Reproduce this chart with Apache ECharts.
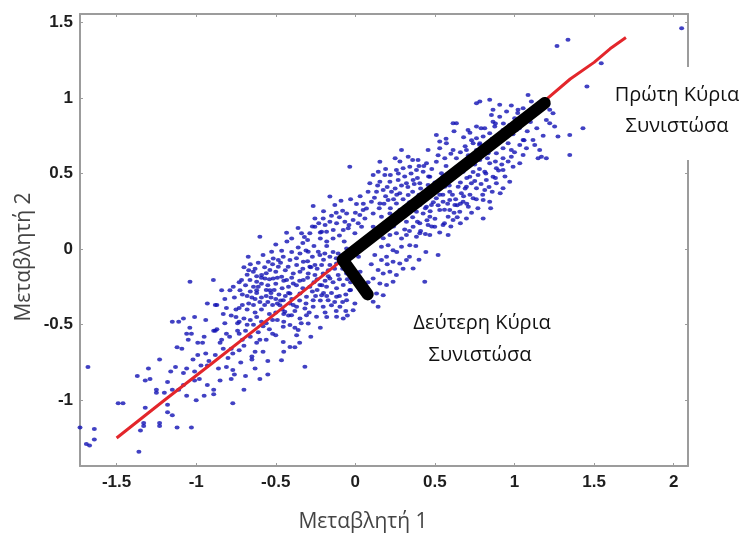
<!DOCTYPE html>
<html>
<head>
<meta charset="utf-8">
<script src="https://cdn.jsdelivr.net/npm/echarts@6/dist/echarts.min.js"></script>
<style>html,body{margin:0;padding:0;background:#fff}#c{width:745px;height:534px}</style>
</head>
<body>
<div id="c"></div>
<script>
// Tick labels
const xTicks = [-1.5, -1, -0.5, 0, 0.5, 1, 1.5, 2];
const yTicks = [-1, -0.5, 0, 0.5, 1, 1.5];
const xRange = [-1.73, 2.09];
const yRange = [-1.435, 1.555];

// Scatter points (Μεταβλητή 1, Μεταβλητή 2), read region by region
const pointsLowerLeft = [
[-1.68,-0.78],[-1.73,-1.18],[-1.64,-1.19],[-1.64,-1.26],[-1.69,-1.29],[-1.67,-1.30],[-1.46,-1.02],[-1.49,-1.02],[-1.36,-1.34],[-1.37,-0.84],[-1.32,-0.87],[-1.29,-0.86],[-1.30,-0.79],[-1.23,-0.73],[-1.25,-0.93],[-1.25,-0.95],[-1.32,-1.05],[-1.33,-1.15],[-1.33,-1.17],[-1.35,-1.20],[-1.23,-1.15],[-1.23,-1.17],[-1.18,-1.03],[-1.18,-1.08],[-1.12,-1.18],[-1.03,-1.18],[-1.16,-0.81],[-1.18,-0.88],[-1.13,-0.78],[-1.15,-0.93],[-1.11,-0.93],[-1.06,-0.97],[-1.15,-0.48],[-1.11,-0.48],[-1.08,-0.46],[-1.12,-0.65],[-1.09,-0.66],[-1.06,-0.56],[-1.03,-0.56],[-1.04,-0.52],[-1.05,-0.60],[-1.01,-0.45],[-0.99,-0.62],[-0.99,-0.70],[-0.96,-0.62],[-0.95,-0.58],[-0.94,-0.69],[-0.93,-0.77],[-1.06,-0.79],[-1.08,-0.82],[-1.01,-0.81],[-1.01,-0.87],[-0.98,-0.86],[-0.93,-0.90],[-0.94,-0.47],[-0.93,-0.36],[-0.88,-0.37],[-0.87,-0.37],[-0.82,-0.33],[-0.81,-0.39],[-0.89,-0.54],[-0.88,-0.54],[-0.84,-0.60],[-0.85,-0.62],[-0.81,-0.56],[-0.81,-0.78],[-0.77,-0.80],[-0.76,-0.83],[-0.85,-0.87],[-0.78,-0.86],[-0.89,-0.93],[-0.89,-0.96],[-0.77,-1.02],[-0.78,-0.66],[-0.73,-0.67],[-0.77,-0.69],[-0.74,-0.54],[-0.73,-0.56],[-0.69,-0.54],[-0.65,-0.71],[-0.65,-0.73],[-0.69,-0.84],[-0.63,-0.79],[-0.60,-0.60],[-0.58,-0.68],[-0.62,-0.62],[-0.52,-0.56],[-0.73,-0.48],[-0.74,-0.49],
[-0.68,-0.31],[-0.65,-0.32],[-0.62,-0.29],[-0.59,-0.32],[-0.56,-0.31],[-0.53,-0.29],[-0.50,-0.33],[-0.67,-0.36],[-0.64,-0.37],[-0.60,-0.35],[-0.57,-0.37],[-0.52,-0.37],[-0.49,-0.36],[-0.73,-0.39],[-0.68,-0.40],[-0.63,-0.42],[-0.59,-0.40],[-0.54,-0.43],[-0.50,-0.42],[-0.75,-0.45],[-0.70,-0.46],[-0.66,-0.47],[-0.62,-0.45],[-0.59,-0.48],[-0.56,-0.49],[-0.52,-0.47],[-0.68,-0.50],[-0.64,-0.50],[-0.58,-0.51],[-0.76,-0.32],[-0.71,-0.37],[-0.78,-0.44],[-0.83,-0.43],[-0.82,-0.49],[-0.87,-0.53],[-0.75,-0.40],
[-1.20,-0.95],[-1.15,-1.10],[-1.08,-0.90],[-1.00,-1.00],[-0.95,-0.97],[-0.70,-0.93],[-0.60,-0.86],[-0.55,-0.74],[-0.45,-0.68],[-0.38,-0.65],[-0.35,-0.62],[-0.28,-0.58],[-0.22,-0.52],[-0.18,-0.45],[-0.05,-0.44],[-0.55,-0.83]
];
const pointsCore = [
[-0.16,0.347],[-0.265,0.285],[-0.129,0.291],[-0.08,0.254],[-0.055,0.236],[0.007,0.298],[0.028,0.225],[0.049,0.258],[0.07,0.269],
[-0.254,0.203],[-0.202,0.203],[-0.16,0.181],[-0.118,0.17],[-0.066,0.181],[-0.014,0.192],[0.018,0.17],[0.06,0.203],
[-0.6,0.082],[-0.432,0.108],[-0.338,0.104],[-0.286,0.104],[-0.254,0.148],[-0.212,0.115],[-0.181,0.115],[-0.139,0.126],[-0.076,0.126],[-0.045,0.137],[-0.003,0.104],[0.039,0.148],
[-0.526,-0.018],[-0.463,-0.011],[-0.359,0.011],[-0.348,-0.029],[-0.296,-0.018],[-0.233,-0.018],[-0.223,-0.04],[-0.192,-0.029],[-0.16,-0.051],[-0.108,-0.029],[-0.055,0.004],
[-0.673,-0.051],[-0.547,-0.084],[-0.516,-0.062],[-0.484,-0.073],[-0.453,-0.051],[-0.411,-0.073],[-0.369,-0.106],[-0.327,-0.084],[-0.286,-0.117],[-0.254,-0.106],[-0.212,-0.106],[-0.16,-0.106],[-0.118,-0.095],
[-0.641,-0.15],[-0.589,-0.172],[-0.537,-0.139],[-0.484,-0.117],[-0.422,-0.117],[-0.39,-0.161],[-0.348,-0.15],[-0.296,-0.161],[-0.254,-0.172],[-0.202,-0.161],[-0.16,-0.194],[-0.108,-0.172],[-0.055,-0.161],
[-0.892,-0.205],[-0.767,-0.249],[-0.715,-0.205],[-0.662,-0.205],[-0.62,-0.216],[-0.568,-0.194],[-0.516,-0.194],[-0.463,-0.183],[-0.432,-0.205],[-0.39,-0.227],[-0.327,-0.205],[-0.286,-0.249],[-0.223,-0.238],[-0.181,-0.249],[-0.118,-0.26],[-0.076,-0.238],[-0.035,-0.272],
[-1.039,-0.216],[-0.84,-0.272],[-0.788,-0.272],[-0.725,-0.272],[-0.62,-0.272],[-0.537,-0.272],[-0.453,-0.338],[-0.411,-0.294],[-0.348,-0.294],[-0.307,-0.316],[-0.265,-0.338],[-0.212,-0.305],[-0.171,-0.338],[-0.118,-0.316],[-0.055,-0.338],[-0.003,-0.36],
[-0.474,-0.371],[-0.411,-0.36],[-0.369,-0.382],[-0.317,-0.393],[-0.265,-0.382],[-0.202,-0.382],[-0.15,-0.371],[-0.097,-0.382],
[-0.443,-0.415],[-0.401,-0.437],[-0.348,-0.459],[-0.307,-0.437],[-0.244,-0.448],[-0.118,-0.448],[-0.076,-0.459],[-0.014,-0.404],
[-0.453,-0.514],[-0.411,-0.503],[-0.359,-0.536],[-0.296,-0.492],[-0.453,-0.614],[-0.369,-0.57],[-0.411,-0.647],
[0.133,0.082],[0.175,0.071],[0.217,0.093],[0.258,0.104],[0.321,0.093],[0.384,0.082],[0.405,0.104],[0.164,0.015],[0.206,0.026],[0.237,-0.007],[0.29,0.015],[0.342,0.026],[0.122,-0.04],[0.164,-0.073],[0.196,-0.051],[0.237,-0.084],[0.279,-0.095],[0.321,-0.073],[0.363,-0.128],[0.143,-0.139],[0.175,-0.161],[0.217,-0.15],[0.258,-0.172],[0.112,-0.194],[0.154,-0.227],[0.196,-0.238],[0.237,-0.216],[0.436,-0.216],[0.133,-0.294],[0.175,-0.305],[0.112,-0.349],[0.143,-0.382],[0.443,-0.02],[-0.464,-0.735],[-0.317,-0.779]
];
const pointsCoreExtra = [
[-0.70,-0.12],[-0.66,-0.10],[-0.61,-0.09],[-0.57,-0.12],[-0.52,-0.10],[-0.47,-0.09],[-0.44,-0.14],[-0.50,-0.15],[-0.56,-0.16],[-0.62,-0.18],[-0.68,-0.17],[-0.73,-0.22],[-0.69,-0.24],[-0.64,-0.25],[-0.59,-0.23],[-0.55,-0.24],[-0.50,-0.23],[-0.46,-0.26],[-0.42,-0.25],[-0.48,-0.30],[-0.53,-0.32],[-0.44,-0.31],[-0.40,-0.33],[-0.46,-0.40],[-0.42,-0.44],[-0.38,-0.41],[-0.49,-0.47],[-0.45,-0.48],[-0.54,-0.53],[-0.61,-0.55],[-0.66,-0.58],[-0.71,-0.60],[-0.79,-0.58],[-0.83,-0.66],[-0.70,-0.64],[-0.63,-0.68],[-0.56,-0.60],[-0.50,-0.57],[-0.88,-0.70],[-0.92,-0.74],[-0.97,-0.77],[-1.02,-0.73],[-0.86,-0.79],[-0.80,-0.72],[-0.72,-0.75],[-0.58,-0.04],[-0.40,-0.02],[-0.37,-0.06],[-0.33,0.04],[-0.43,0.05],[-0.50,0.03],
[-0.33,-0.13],[-0.30,-0.08],[-0.27,-0.05],[-0.24,-0.13],[-0.20,-0.07],[-0.17,-0.14],[-0.14,-0.02],[-0.13,-0.13],[-0.10,-0.20],[-0.14,-0.22],[-0.19,-0.21],[-0.24,-0.20],[-0.30,-0.19],[-0.35,-0.21],[-0.33,-0.26],[-0.27,-0.28],[-0.24,-0.27],[-0.20,-0.29],[-0.15,-0.29],[-0.10,-0.31],[-0.06,-0.30],[-0.03,-0.22],[-0.30,0.06],[-0.26,0.02],[-0.22,0.07],[-0.18,0.05],[-0.14,0.07],[-0.10,0.09],[-0.27,0.15],[-0.23,0.17],[-0.19,0.16],[-0.15,0.22],[-0.10,0.21],[-0.36,0.14],[-0.40,0.07],[-0.09,0.32],[-0.03,0.33],[0.03,0.35],[-0.20,0.25],
[0.02,-0.05],[0.05,0.02],[0.08,0.06],[0.10,-0.10],[0.26,-0.02],[0.30,-0.13],[0.34,-0.05],[0.38,0.02],[0.40,-0.07],[0.20,-0.10],[0.08,-0.22],[0.03,-0.15],
[-0.67,-0.14],[-0.63,-0.13],[-0.59,-0.19],[-0.54,-0.20],[-0.49,-0.19],[-0.45,-0.21],[-0.40,-0.19],[-0.37,-0.24],[-0.42,-0.29],[-0.47,-0.34],[-0.51,-0.27],[-0.56,-0.27],[-0.61,-0.25],[-0.66,-0.28],[-0.71,-0.30],[-0.63,-0.33],[-0.55,-0.35],[-0.45,-0.43],[-0.39,-0.37],[-0.35,-0.34],[-0.31,-0.36],[-0.29,-0.42],[-0.34,-0.49],[-0.38,-0.52],[-0.25,-0.31],[-0.22,-0.34],[-0.18,-0.31],[-0.13,-0.35],[-0.08,-0.35],[-0.06,-0.41],[-0.12,-0.41],[-0.19,-0.42],
[-0.31,-0.01],[-0.28,-0.12],[-0.26,-0.22],[-0.21,-0.24],[-0.17,-0.18],[-0.12,-0.06],[-0.08,-0.13],[-0.05,-0.20],[-0.03,-0.27],[-0.18,0.02],[-0.22,0.11],[-0.32,0.08],[-0.07,0.05],[-0.04,0.16],[0.00,0.24],[-0.12,0.24]
];
const pointsUpper = [
[0.614,0.832],[0.635,0.832],[0.708,0.788],[0.761,0.81],[0.813,0.799],[0.855,0.887],[0.865,0.843],[0.876,0.81],[0.907,0.876],[0.928,0.788],[0.97,0.821],[1.001,0.865],[1.012,0.788],[1.054,0.722],[0.509,0.755],[0.53,0.711],[0.572,0.7],[0.761,0.733],[0.803,0.744],[0.844,0.766],[0.74,0.7],[0.782,0.7],[0.823,0.689],[0.897,0.7],[0.928,0.667],[0.98,0.656],[1.033,0.689],[1.075,0.667],
[0.29,0.656],[0.457,0.656],[0.53,0.667],[0.614,0.656],[0.698,0.656],[0.761,0.656],[0.834,0.634],[0.886,0.634],[0.928,0.6],[0.98,0.611],[1.054,0.623],[1.033,0.567],
[-0.035,0.545],[0.154,0.578],[0.332,0.611],[0.394,0.589],[0.447,0.567],[0.509,0.578],[0.562,0.6],[0.635,0.6],[0.698,0.578],[0.782,0.589],[0.844,0.567],[0.886,0.534],[0.928,0.523],[0.991,0.545],[0.865,0.479],[0.97,0.446],
[0.112,0.49],[0.144,0.512],[0.185,0.49],[0.258,0.523],[0.3,0.534],[0.342,0.545],[0.384,0.523],[0.426,0.512],[0.468,0.479],[0.541,0.501],[0.562,0.457],[0.625,0.479],[0.677,0.512],[0.719,0.479],[0.771,0.49],[0.813,0.512],[0.823,0.457],[0.886,0.435],[0.928,0.402],[0.813,0.391],[0.761,0.402],[0.729,0.435],[0.698,0.413],[0.666,0.369],[0.74,0.336],[0.803,0.325],[0.844,0.313],[0.677,0.313],[0.625,0.291],
[0.091,0.435],[0.154,0.446],[0.217,0.446],[0.269,0.457],[0.321,0.435],[0.363,0.457],[0.405,0.435],[0.457,0.424],[0.509,0.391],[0.562,0.413],[0.593,0.38],[0.646,0.413],[0.593,0.325],[0.551,0.313],[0.509,0.336],[0.478,0.291],[0.447,0.28],[0.405,0.291],[0.374,0.325],[0.332,0.358],[0.279,0.369],[0.227,0.38],[0.175,0.391],[0.133,0.38],
[0.101,0.313],[0.154,0.302],[0.206,0.325],[0.258,0.302],[0.311,0.28],[0.342,0.258],[0.384,0.247],[0.426,0.236],[0.468,0.214],[0.53,0.258],[0.583,0.214],[0.614,0.192],[0.698,0.203],[0.803,0.203],[0.593,0.258],[0.656,0.247],
[0.112,0.236],[0.164,0.214],[0.217,0.236],[0.269,0.192],[0.321,0.181],[0.363,0.148],[0.405,0.17],[0.457,0.159],[0.499,0.148],[0.551,0.159],[0.583,0.093],[0.468,0.093],[0.112,0.148],[0.175,0.126],[0.52,-0.04]
];
const pointsUpperExtra = [
[0.05,0.30],[0.08,0.38],[0.12,0.34],[0.15,0.27],[0.19,0.35],[0.20,0.41],[0.24,0.33],[0.25,0.40],[0.29,0.42],[0.30,0.33],[0.33,0.41],[0.36,0.38],[0.38,0.30],[0.40,0.36],[0.43,0.32],[0.46,0.37],[0.49,0.31],[0.52,0.29],[0.55,0.36],[0.58,0.30],[0.61,0.36],[0.64,0.29],[0.68,0.35],[0.71,0.28],[0.22,0.49],[0.27,0.50],[0.31,0.48],[0.35,0.50],[0.39,0.47],[0.43,0.55],[0.48,0.53],[0.52,0.62],[0.57,0.55],[0.60,0.63],[0.66,0.64],[0.71,0.62],[0.75,0.56],[0.79,0.62],[0.83,0.60],[0.88,0.58],[0.92,0.56],[0.96,0.58],[0.75,0.45],[0.79,0.43],[0.84,0.41],[0.88,0.47],[0.91,0.37],[0.94,0.48],[0.70,0.47],[0.66,0.44],[0.22,0.20],[0.27,0.22],[0.31,0.13],[0.36,0.21],[0.41,0.12],[0.45,0.19],[0.50,0.20],[0.53,0.11],[0.56,0.17],[0.62,0.24],[0.66,0.17],[0.73,0.24],[0.77,0.27],[0.85,0.27],[0.68,0.74],[0.72,0.77],[0.79,0.80],[0.86,0.73],[0.94,0.74],[0.99,0.76],[1.03,0.80],[1.08,0.78],[1.10,0.84],[0.62,0.78],[0.57,0.73],[0.95,0.91],[0.98,0.95],[1.05,0.87],
[0.14,0.42],[0.18,0.30],[0.22,0.27],[0.26,0.36],[0.28,0.26],[0.32,0.24],[0.34,0.31],[0.37,0.43],[0.41,0.40],[0.44,0.27],[0.47,0.25],[0.50,0.44],[0.53,0.36],[0.56,0.26],[0.59,0.42],[0.63,0.33],[0.66,0.30],[0.69,0.40],[0.72,0.36],[0.76,0.33],[0.80,0.36],[0.82,0.50],[0.86,0.38],[0.90,0.52],[0.24,0.15],[0.29,0.07],[0.34,0.12],[0.39,0.18],[0.44,0.10],[0.48,0.15],[0.60,0.15],[0.64,0.21],[0.70,0.30],[0.74,0.51],[0.78,0.53],[0.64,0.53],[0.60,0.50],[0.55,0.48],[0.46,0.48],[0.40,0.55],[0.36,0.59],[0.28,0.58],[0.25,0.60],[0.19,0.53],
[0.85,0.69],[0.90,0.75],[0.96,0.70],[1.00,0.64],[1.06,0.72],[0.93,0.83],[0.88,0.83],[0.78,0.69],[0.73,0.72],[0.69,0.68],[1.02,0.90],[1.14,0.80],[1.18,0.75]
];
const pointsTop = [
[1.336,1.384],[1.267,1.344],[1.545,1.23],[1.455,1.075],[1.43,0.799],[1.347,0.755],[1.347,0.623],[1.2,0.6],[1.169,0.611],[1.148,0.6],[1.116,0.722],[1.127,0.689],[1.106,0.976],[1.116,0.921],[1.21,0.954],[1.221,0.921],[1.242,0.898],[1.2,0.854],[1.221,0.832],[1.252,0.81],[1.273,0.744],[1.158,0.656],[1.085,1.02],[1.054,0.932],[1.022,0.921],[0.907,0.954],[0.844,0.987],[0.761,0.965],[0.782,0.976],[0.865,0.921],[2.05,1.46]
];

// Red fitted line and principal component segments
const redLine = [[-1.5,-1.25],[-1.2,-1.0],[-0.9,-0.755],[-0.5,-0.425],[-0.08,-0.07],[0.3,0.245],[0.7,0.575],[1.0,0.825],[1.2,0.99],[1.35,1.125],[1.5,1.235],[1.6,1.325],[1.7,1.40]];
const pc1 = [[1.19,0.967],[-0.08,-0.07]];
const pc2 = [[-0.08,-0.07],[0.078,-0.30]];

const chart = echarts.init(document.getElementById('c'), null, {renderer:'canvas'});
const axisColor = '#9c9c9c';
const labelStyle = {fontFamily:'Liberation Sans, Arial, sans-serif', fontWeight:'bold', fontSize:17, color:'#1e1e1e'};
function xa(pos, show){
  return {type:'value', position:pos, min:xRange[0], max:xRange[1],
    axisLine:{show:true, onZero:false, lineStyle:{color:axisColor, width:2}},
    axisTick:{show:true, inside:true, length:3, customValues:xTicks, lineStyle:{color:axisColor}},
    axisLabel:{show:show, customValues:xTicks, margin:8, ...labelStyle},
    splitLine:{show:false}};
}
function ya(pos, show){
  return {type:'value', position:pos, min:yRange[0], max:yRange[1],
    axisLine:{show:true, onZero:false, lineStyle:{color:axisColor, width:2}},
    axisTick:{show:true, inside:true, length:3, customValues:yTicks, lineStyle:{color:axisColor}},
    axisLabel:{show:show, customValues:yTicks, margin:7, ...labelStyle},
    splitLine:{show:false}};
}
const allPoints = pointsLowerLeft.concat(pointsCore, pointsCoreExtra, pointsUpper, pointsUpperExtra, pointsTop);
const nameFont = 'Open Sans, Noto Sans, sans-serif';
chart.setOption({
  animation:false,
  backgroundColor:'#fff',
  grid:{left:80, right:57, top:14, bottom:68, containLabel:false},
  xAxis:[xa('bottom', true), xa('top', false)],
  yAxis:[ya('left', true), ya('right', false)],
  series:[
    {type:'scatter', data:allPoints, symbol:'circle', symbolSize:[5,4], itemStyle:{color:'#1212b4'}, z:2},
    {type:'line', data:redLine, showSymbol:false, lineStyle:{color:'#e3262b', width:3}, z:3},
    {type:'line', data:pc1.concat(pc2.slice(1)), showSymbol:false, lineStyle:{color:'#000', width:12, cap:'round', join:'round'}, z:4}
  ],
  graphic:[
    {type:'rect', shape:{x:590, y:67, width:155, height:93}, style:{fill:'#fff'}, z:100},
    {type:'rect', shape:{x:400, y:305, width:165, height:68}, style:{fill:'#fff'}, z:100},
    {type:'text', x:677, y:95, style:{text:'Πρώτη Κύρια', font:'20px ' + nameFont, fill:'#111', align:'center', verticalAlign:'middle'}, z:101},
    {type:'text', x:677, y:126, style:{text:'Συνιστώσα', font:'20px ' + nameFont, fill:'#111', align:'center', verticalAlign:'middle'}, z:101},
    {type:'text', x:482, y:323, style:{text:'Δεύτερη Κύρια', font:'20px ' + nameFont, fill:'#111', align:'center', verticalAlign:'middle'}, z:101},
    {type:'text', x:480, y:355, style:{text:'Συνιστώσα', font:'20px ' + nameFont, fill:'#111', align:'center', verticalAlign:'middle'}, z:101},
    {type:'text', x:363, y:522, style:{text:'Μεταβλητή 1', font:'21px ' + nameFont, fill:'#444', align:'center', verticalAlign:'middle'}, z:101},
    {type:'text', x:24, y:257, rotation:Math.PI/2, style:{text:'Μεταβλητή 2', font:'21px ' + nameFont, fill:'#444', align:'center', verticalAlign:'middle'}, z:101}
  ]
});
</script>
</body>
</html>
